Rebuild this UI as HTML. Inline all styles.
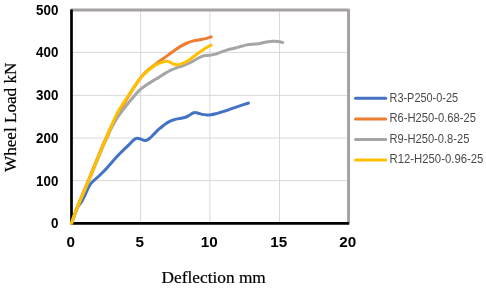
<!DOCTYPE html>
<html lang="en"><head><meta charset="utf-8"><title>Wheel Load vs Deflection</title>
<style>html,body{margin:0;padding:0;background:#fff}svg{display:block}</style></head>
<body>
<svg width="486" height="289" viewBox="0 0 486 289">
<rect width="486" height="289" fill="#fff"/>
<g stroke="#d9d9d9" stroke-width="1" fill="none"><line x1="71.5" y1="180.60" x2="348.6" y2="180.60"/><line x1="71.5" y1="138.00" x2="348.6" y2="138.00"/><line x1="71.5" y1="95.40" x2="348.6" y2="95.40"/><line x1="71.5" y1="52.35" x2="348.6" y2="52.35"/><line x1="140.60" y1="9.9" x2="140.60" y2="223.3"/><line x1="209.90" y1="9.9" x2="209.90" y2="223.3"/><line x1="279.50" y1="9.9" x2="279.50" y2="223.3"/></g>
<path d="M70.5,9.9 H348.55 V224.4" fill="none" stroke="#a7a2a2" stroke-width="3" stroke-linejoin="round"/>
<path d="M71.5,9.6 V223.3 H348.9" fill="none" stroke="#000" stroke-width="2.7" stroke-linejoin="miter"/>
<path d="M71.5,223.3C72.5,220.8 75.5,211.9 77.2,208.2C79.0,204.5 80.7,203.2 82.0,200.9C83.3,198.7 84.2,196.8 85.2,194.7C86.2,192.6 87.0,190.4 87.9,188.6C88.8,186.8 89.6,185.3 90.6,183.9C91.6,182.5 92.7,181.7 94.0,180.4C95.3,179.1 96.5,178.5 98.7,176.3C100.9,174.1 104.3,170.8 107.4,167.4C110.5,164.1 114.0,159.7 117.3,156.2C120.6,152.7 125.2,148.5 127.3,146.4C129.4,144.3 129.1,144.6 130.2,143.5C131.3,142.4 132.8,140.6 134.0,139.7C135.2,138.8 136.1,138.4 137.1,138.3C138.1,138.2 139.1,138.6 140.2,138.9C141.3,139.2 142.9,140.2 143.9,140.4C144.9,140.7 145.5,140.7 146.4,140.4C147.3,140.1 148.2,139.6 149.5,138.5C150.8,137.4 152.3,135.7 153.9,134.1C155.5,132.5 157.2,130.7 158.9,129.2C160.6,127.7 162.2,126.4 163.8,125.2C165.5,124.0 167.1,122.8 168.8,121.9C170.5,121.0 172.1,120.3 173.8,119.8C175.5,119.2 177.0,119.0 178.8,118.6C180.6,118.2 183.1,118.0 184.7,117.5C186.3,117.0 187.2,116.6 188.4,115.9C189.7,115.2 191.0,114.0 192.2,113.4C193.3,112.8 194.3,112.5 195.3,112.5C196.3,112.5 197.3,112.9 198.4,113.2C199.5,113.5 200.7,114.1 202.1,114.4C203.5,114.7 205.6,114.9 207.1,115.0C208.6,115.1 209.4,115.0 210.9,114.8C212.4,114.6 214.2,114.2 215.8,113.8C217.5,113.4 219.1,112.8 220.8,112.3C222.5,111.8 223.9,111.3 225.8,110.7C227.7,110.1 229.2,109.5 232.4,108.4C235.6,107.3 242.2,105.1 244.9,104.2C247.6,103.3 247.9,103.3 248.5,103.1" fill="none" stroke="#4472c4" stroke-width="3" stroke-linecap="round" stroke-linejoin="round"/>
<path d="M71.5,223.3C72.4,220.8 74.1,215.3 76.9,208.2C79.7,201.1 84.1,190.8 88.3,180.6C92.5,170.4 99.0,154.2 102.0,147.0C105.0,139.8 105.0,140.6 106.3,137.6C107.6,134.6 108.4,132.4 110.1,128.9C111.8,125.4 114.8,119.5 116.5,116.4C118.2,113.3 118.9,112.1 120.0,110.2C121.1,108.3 121.8,107.5 123.3,105.0C124.8,102.5 126.5,99.5 128.9,95.5C131.3,91.5 135.6,84.8 138.0,81.3C140.4,77.8 141.5,76.7 143.2,74.8C144.9,72.9 146.7,71.3 148.2,70.0C149.7,68.7 150.7,67.9 152.0,66.9C153.3,65.9 154.3,65.2 156.0,63.9C157.7,62.6 160.1,60.8 162.2,59.3C164.3,57.8 166.3,56.4 168.4,54.9C170.5,53.4 172.6,51.7 174.7,50.2C176.8,48.7 178.8,47.3 180.9,46.1C183.0,44.9 185.0,43.9 187.1,43.0C189.2,42.1 191.2,41.4 193.3,40.9C195.4,40.4 197.5,40.2 199.6,39.8C201.7,39.4 204.1,39.0 205.8,38.6C207.5,38.2 208.7,37.7 209.6,37.4C210.5,37.1 210.9,37.0 211.2,36.9" fill="none" stroke="#ed7d31" stroke-width="3" stroke-linecap="round" stroke-linejoin="round"/>
<path d="M71.5,223.3C72.4,220.8 74.1,215.3 77.0,208.2C79.9,201.1 84.5,190.8 88.8,180.6C93.1,170.4 99.8,154.2 102.8,147.0C105.8,139.8 105.7,140.6 107.1,137.6C108.5,134.6 109.2,132.3 111.0,128.9C112.8,125.5 115.4,120.7 117.8,117.0C120.2,113.3 122.9,110.0 125.4,106.8C127.9,103.5 130.4,100.4 132.9,97.5C135.4,94.6 137.8,91.8 140.2,89.6C142.6,87.4 145.1,85.8 147.3,84.3C149.5,82.8 151.8,81.5 153.6,80.4C155.4,79.3 156.6,78.7 158.4,77.6C160.2,76.5 162.5,74.8 164.6,73.6C166.7,72.4 168.8,71.2 170.9,70.2C173.0,69.2 175.0,68.5 177.1,67.7C179.2,66.9 181.2,66.4 183.3,65.6C185.4,64.8 187.4,64.0 189.5,63.0C191.6,62.0 194.0,60.5 195.9,59.5C197.8,58.5 199.5,57.4 200.9,56.8C202.3,56.1 203.2,55.9 204.6,55.6C206.0,55.4 207.9,55.5 209.6,55.3C211.3,55.1 212.9,54.8 214.6,54.4C216.3,54.0 217.9,53.2 219.6,52.6C221.2,52.0 222.8,51.5 224.5,50.9C226.2,50.3 227.6,49.8 229.5,49.3C231.4,48.8 234.0,48.2 236.2,47.7C238.3,47.2 240.3,46.5 242.4,46.0C244.5,45.5 246.6,44.9 248.7,44.6C250.8,44.3 253.0,44.3 254.9,44.1C256.8,43.9 258.2,43.8 259.9,43.5C261.6,43.2 263.2,42.6 264.9,42.2C266.5,41.9 268.1,41.5 269.8,41.4C271.5,41.2 273.1,41.2 274.8,41.3C276.5,41.4 278.5,41.6 279.8,41.8C281.1,42.0 282.1,42.4 282.6,42.5" fill="none" stroke="#a5a5a5" stroke-width="3" stroke-linecap="round" stroke-linejoin="round"/>
<path d="M71.5,223.3C72.4,220.8 74.2,215.3 77.0,208.2C79.8,201.1 84.4,190.8 88.6,180.6C92.8,170.4 99.4,154.2 102.4,147.0C105.4,139.8 105.3,140.6 106.6,137.6C107.9,134.6 108.7,132.4 110.2,128.9C111.7,125.4 114.1,119.5 115.6,116.4C117.0,113.3 117.8,112.1 118.9,110.2C120.0,108.3 120.6,107.5 122.2,105.0C123.8,102.5 125.7,99.5 128.4,95.5C131.1,91.5 135.7,84.8 138.2,81.3C140.7,77.8 141.8,76.6 143.5,74.8C145.2,73.0 146.5,71.7 148.4,70.2C150.3,68.7 152.6,66.8 154.7,65.6C156.8,64.3 158.9,63.4 160.9,62.7C162.9,62.0 165.1,61.4 166.5,61.3C167.9,61.2 168.5,61.4 169.6,61.9C170.7,62.4 172.0,63.5 173.3,64.0C174.6,64.5 176.0,64.9 177.5,64.8C179.0,64.7 180.5,64.2 182.1,63.6C183.7,63.0 185.5,62.0 187.0,61.2C188.5,60.4 189.4,59.7 190.9,58.6C192.4,57.5 194.2,56.1 195.9,54.9C197.6,53.7 199.2,52.4 200.9,51.2C202.6,50.0 204.5,48.8 205.9,47.9C207.3,47.0 208.7,46.3 209.6,45.9C210.5,45.5 210.9,45.3 211.2,45.2" fill="none" stroke="#ffc000" stroke-width="3" stroke-linecap="round" stroke-linejoin="round"/>
<g font-family="'Liberation Sans', Arial, sans-serif" font-weight="700" font-size="14" fill="#000"><text transform="translate(58.4,228.2) scale(0.955,1)" text-anchor="end">0</text><text transform="translate(58.4,185.5) scale(0.955,1)" text-anchor="end">100</text><text transform="translate(58.4,142.9) scale(0.955,1)" text-anchor="end">200</text><text transform="translate(58.4,100.3) scale(0.955,1)" text-anchor="end">300</text><text transform="translate(58.4,57.2) scale(0.955,1)" text-anchor="end">400</text><text transform="translate(58.4,14.8) scale(0.955,1)" text-anchor="end">500</text></g>
<g font-family="'Liberation Sans', Arial, sans-serif" font-weight="700" font-size="14" fill="#000"><text transform="translate(70.8,247.2) scale(1.09,1)" text-anchor="middle">0</text><text transform="translate(139.8,247.2) scale(1.09,1)" text-anchor="middle">5</text><text transform="translate(209.2,247.2) scale(1.09,1)" text-anchor="middle">10</text><text transform="translate(278.8,247.2) scale(1.09,1)" text-anchor="middle">15</text><text transform="translate(347.8,247.2) scale(1.09,1)" text-anchor="middle">20</text></g>
<text x="161.6" y="283" font-family="'Liberation Serif', serif" font-size="16.5" fill="#000" stroke="#000" stroke-width="0.2" textLength="104.2" lengthAdjust="spacingAndGlyphs">Deflection mm</text>
<text transform="translate(16.3,172) rotate(-90)" font-family="'Liberation Serif', serif" font-size="16.5" fill="#000" stroke="#000" stroke-width="0.2" textLength="109.4" lengthAdjust="spacingAndGlyphs">Wheel Load kN</text>
<line x1="355.5" y1="98.3" x2="385.7" y2="98.3" stroke="#4472c4" stroke-width="3" stroke-linecap="round"/>
<text x="389.5" y="101.6" font-family="'Liberation Sans', Arial, sans-serif" font-size="12.4" fill="#4a4a4a" textLength="68.6" lengthAdjust="spacingAndGlyphs">R3-P250-0-25</text>
<line x1="355.5" y1="118.9" x2="385.7" y2="118.9" stroke="#ed7d31" stroke-width="3" stroke-linecap="round"/>
<text x="389.5" y="122.2" font-family="'Liberation Sans', Arial, sans-serif" font-size="12.4" fill="#4a4a4a" textLength="86.5" lengthAdjust="spacingAndGlyphs">R6-H250-0.68-25</text>
<line x1="355.5" y1="139.4" x2="385.7" y2="139.4" stroke="#a5a5a5" stroke-width="3" stroke-linecap="round"/>
<text x="389.5" y="142.7" font-family="'Liberation Sans', Arial, sans-serif" font-size="12.4" fill="#4a4a4a" textLength="79.9" lengthAdjust="spacingAndGlyphs">R9-H250-0.8-25</text>
<line x1="355.5" y1="159.9" x2="385.7" y2="159.9" stroke="#ffc000" stroke-width="3" stroke-linecap="round"/>
<text x="389.5" y="163.2" font-family="'Liberation Sans', Arial, sans-serif" font-size="12.4" fill="#4a4a4a" textLength="93.9" lengthAdjust="spacingAndGlyphs">R12-H250-0.96-25</text>
</svg>
</body></html>
